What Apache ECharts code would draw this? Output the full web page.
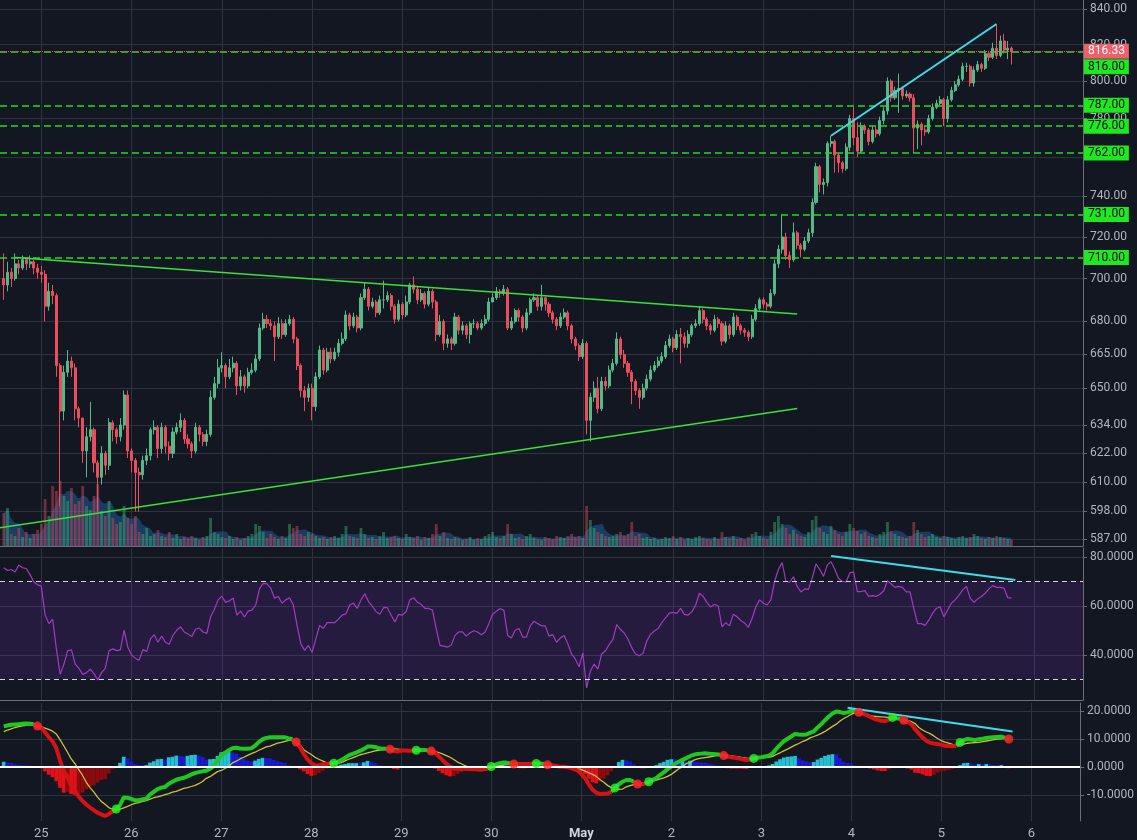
<!DOCTYPE html>
<html><head><meta charset="utf-8">
<script src="https://cdn.jsdelivr.net/npm/echarts@6/dist/echarts.min.js"></script>
<style>html,body{margin:0;padding:0;background:#131722;}#c{width:1137px;height:840px;}</style>
</head><body><div id="c"></div>
<script>
// ---------- data (hourly candles, 24 Apr 14:00 -> 5 May 18:00) ----------
const FIRST_OPEN = 700;
const CLOSE = [
697,703,700,707,705,709,707,708,705,703,
702,687,694,692,660,640,657,662,659,641,
637,623,629,632,618,612,622,617,635,632,
629,634,647,623,619,614,613,619,621,632,
633,624,633,625,622,631,633,636,628,626,
623,633,630,627,630,646,652,659,660,655,
659,661,651,655,651,657,658,663,677,681,
679,678,673,679,674,679,681,672,660,649,
646,650,642,655,667,658,666,663,666,670,
672,683,678,682,677,691,695,687,689,684,
690,690,692,687,681,688,683,689,697,695,
690,693,688,694,689,674,680,670,672,670,
682,676,678,674,679,679,677,679,681,689,
691,694,693,695,677,680,685,682,677,684,
690,691,687,691,688,684,681,678,682,684,
678,672,669,664,670,636,646,650,641,653,
651,658,661,672,665,661,657,653,649,646,
650,654,658,660,662,664,669,672,668,674,
673,670,674,678,679,685,681,678,676,681,
679,671,678,674,682,678,676,675,673,681,
686,690,688,687,693,707,714,720,711,709,
722,716,714,718,722,737,755,746,747,767,
768,761,757,754,765,780,770,763,776,774,
768,774,772,779,784,800,791,795,796,792,
793,791,775,777,774,773,780,786,788,790,
780,790,795,798,801,808,808,799,806,809,
807,815,813,818,814,822,817,818,816.33];
const HIGH = [
712,708,705,712,709,711,710,711,709,707,
706,704,698,697,693,661,660,667,664,661,
642,637,633,644,633,619,625,623,637,636,
633,637,649,649,624,620,616,621,624,633,
636,634,635,634,627,633,635,639,637,630,
627,635,634,631,632,649,655,663,666,661,
663,664,662,658,656,659,661,665,679,684,
683,681,680,682,681,681,683,682,673,661,
651,652,652,657,669,668,668,668,668,672,
675,685,684,684,683,693,698,696,691,690,
692,699,694,693,688,690,689,692,698,701,
696,695,694,696,695,690,683,681,674,673,
684,683,680,679,680,681,680,681,683,691,
693,696,695,697,696,682,686,686,683,686,
691,693,692,697,691,689,685,682,684,686,
685,679,673,670,672,671,648,653,655,655,
655,660,663,675,673,667,662,658,654,650,
652,656,660,662,664,666,671,674,673,676,
677,675,676,679,681,687,686,682,679,683,
682,680,680,679,684,683,679,677,676,683,
688,691,691,689,695,709,716,731,722,713,
727,723,717,720,724,739,757,756,749,768,
771,769,762,758,767,782,786,778,778,777,
775,776,776,781,786,802,801,797,804,797,
795,794,793,779,778,776,782,788,790,792,
791,792,797,800,803,810,810,809,808,811,
810,817,816,821,831,825,826,822,819];
const LOW = [
690,694,696,699,702,704,704,705,702,700,
698,680,685,688,655,600,636,655,655,636,
633,618,612,627,614,598,609,613,615,627,
626,627,632,620,614,598,598,611,617,619,
630,620,622,622,619,620,630,631,626,624,
620,622,627,625,625,629,645,650,657,650,
654,657,647,649,648,650,656,657,662,676,
677,676,662,672,672,673,678,670,658,646,
640,644,636,640,654,656,657,661,662,664,
669,671,676,677,675,676,690,685,686,682,
683,686,689,685,679,680,681,682,688,693,
688,689,686,687,686,671,673,667,668,667,
669,674,674,672,670,677,676,676,678,680,
689,690,691,692,676,676,679,680,675,676,
683,689,685,685,685,682,679,676,677,681,
676,670,667,662,663,630,627,644,639,640,
649,650,657,660,663,659,655,643,647,641,
645,649,653,657,659,661,663,668,666,667,
661,668,668,673,677,678,679,676,674,675,
677,669,670,672,673,676,674,673,671,672,
680,685,686,685,686,692,705,712,709,705,
708,714,710,713,717,720,736,742,741,745,
765,752,752,752,753,763,766,760,762,772,
766,767,770,771,777,782,789,790,783,790,
791,789,762,764,766,771,772,779,785,787,
776,778,789,794,797,800,805,797,797,805,
805,806,811,812,812,813,815,812,809];
const VOLUME = [
33,38,12,10,18,9,14,8,12,16,22,
47,30,60,55,65,50,45,58,42,45,
60,40,36,50,62,35,30,45,28,22,
24,40,28,22,30,14,12,18,10,12,
16,10,9,14,8,12,7,9,8,10,
8,6,9,10,28,14,12,9,8,10,
7,9,6,8,10,12,22,20,14,8,
12,9,7,10,8,22,18,20,12,10,
14,12,10,8,9,7,9,10,8,12,
20,10,9,8,18,12,8,9,7,10,
14,8,9,10,8,7,12,9,8,10,
6,9,8,12,22,10,14,8,7,9,
8,6,7,9,6,8,7,10,12,14,
9,8,10,22,12,8,9,7,10,12,
8,7,6,9,8,7,10,9,8,10,
12,9,10,8,40,26,18,14,12,10,
9,10,12,14,10,12,24,10,12,8,
9,7,8,6,7,9,8,10,7,9,
6,8,7,9,10,8,7,6,9,7,
14,9,8,10,7,8,6,9,12,14,
10,8,7,14,24,30,22,18,12,16,
12,10,9,14,26,30,18,14,12,20,
16,12,10,14,22,18,15,12,14,10,
9,8,12,14,24,15,12,10,9,8,
10,24,16,12,9,10,12,9,8,10,
9,8,7,9,10,8,9,12,10,8,
7,9,8,10,9,8,7,6];
const RSI = [
75.6,74.5,74.9,73.9,76.7,75.6,75.3,72.8,69.8,68.7,
68.0,56.3,52.8,54.6,42.5,32.1,36.3,41.8,42.1,36.3,
34.5,32.1,32.8,34.2,32.4,29.8,32.8,34.5,41.8,42.5,
41.8,42.1,50.1,43.2,40.0,38.6,37.9,42.2,41.4,46.6,
48.3,45.2,47.7,45.2,44.4,48.0,50.1,51.5,49.4,48.6,
47.5,50.5,51.0,49.4,48.8,55.6,58.6,62.5,64.0,61.5,
62.1,63.2,56.3,57.9,55.5,57.9,58.3,60.4,67.0,69.2,
69.0,67.3,63.2,63.9,61.1,62.5,63.4,60.4,52.1,44.6,
41.9,43.9,41.1,46.6,52.1,50.8,53.2,53.2,53.2,54.6,
56.3,56.8,60.4,61.2,59.0,62.5,65.0,61.8,59.9,57.7,
56.6,59.3,59.3,56.3,53.5,56.6,56.3,57.7,62.5,63.4,
61.5,60.7,59.0,59.0,58.3,50.8,43.9,43.6,43.2,44.1,
48.0,49.4,49.4,47.7,49.1,49.9,49.4,48.3,49.4,52.8,
56.6,57.9,59.0,58.2,48.0,46.9,50.1,50.8,47.3,47.3,
51.9,53.8,52.8,51.9,51.9,47.7,48.3,45.2,46.9,48.0,
44.6,40.4,38.4,35.2,40.8,26.6,33.5,36.3,34.2,40.4,
41.7,44.3,46.4,52.4,50.4,49.0,46.4,43.0,40.4,39.7,
40.7,45.7,48.4,49.8,50.8,53.2,55.2,57.1,57.4,57.0,
59.0,56.6,56.3,57.7,60.4,65.2,63.9,61.4,59.6,60.7,
60.0,51.5,53.2,51.9,56.6,55.6,54.1,53.1,51.3,54.9,
59.7,62.5,61.1,60.4,62.5,70.1,74.9,77.7,70.1,69.7,
71.9,68.0,65.7,67.0,66.8,71.5,77.2,74.9,72.1,76.7,
78.1,75.0,71.2,70.1,69.8,73.5,73.9,65.9,65.9,66.3,
63.9,64.2,63.9,64.8,66.2,70.3,69.0,67.6,68.0,67.6,
65.8,65.8,59.0,52.8,52.8,52.1,54.2,57.0,59.0,59.7,
55.6,58.3,61.1,62.5,64.3,66.6,68.0,63.2,61.5,62.9,
63.9,65.2,67.0,68.3,67.6,67.6,67.3,63.4,63.2];
const MACD = [
14.5,14.8,15.1,15.2,15.3,15.4,15.5,15.4,15.3,14.6,
14.0,12.4,10.7,9.2,6.8,2.4,-1.5,-3.5,-6.7,-8.7,
-10.5,-12.0,-13.3,-14.4,-15.3,-16.2,-16.8,-17.4,-16.7,-15.8,
-14.9,-13.5,-10.8,-10.9,-11.3,-11.8,-11.8,-11.5,-11.2,-9.8,
-8.8,-7.8,-7.3,-7.1,-5.9,-5.2,-4.5,-4.1,-3.8,-3.3,
-2.6,-2.1,-1.8,-1.5,-1.3,-0.6,0.4,2.4,4.1,5.1,
6.0,6.7,6.9,6.6,6.5,6.5,6.7,7.6,8.9,9.9,
10.4,10.6,10.6,10.6,10.6,10.6,10.2,9.9,8.9,7.1,
4.7,2.8,1.4,0.6,0.7,0.9,1.1,1.3,1.4,1.8,
2.5,3.3,4.2,4.7,5.2,5.8,6.4,7.3,7.3,7.2,
6.7,6.5,6.5,6.4,5.8,5.5,5.9,5.9,5.8,5.8,
6.0,6.1,6.1,6.0,5.7,5.1,3.8,2.5,1.2,0.2,
-0.5,-0.6,-0.6,-0.6,-0.7,-0.8,-0.8,-0.9,-0.8,-0.6,
0.2,0.8,1.3,1.6,1.6,1.3,1.1,1.1,1.0,1.0,
1.1,1.2,1.3,1.3,1.1,0.8,0.7,0.5,0.2,0.1,
0.0,-0.2,-0.7,-1.2,-2.4,-3.9,-6.1,-8.0,-9.1,-9.6,
-9.5,-9.4,-8.8,-7.4,-6.1,-5.2,-4.6,-4.6,-5.2,-6.0,
-6.1,-5.9,-5.2,-4.6,-3.9,-2.8,-1.9,-0.7,0.2,1.2,
1.9,2.6,3.2,3.9,4.4,4.7,4.8,4.9,4.8,4.7,
4.6,4.4,4.1,3.8,3.5,3.3,3.1,2.8,2.5,2.7,
3.1,3.3,3.5,3.8,4.1,4.9,6.5,7.9,9.2,10.1,
10.9,11.8,11.6,11.5,11.6,12.2,12.7,14.1,15.3,16.7,
18.0,19.1,19.8,19.6,19.2,19.5,20.0,20.0,19.5,19.1,
18.6,17.9,17.3,16.8,16.5,16.4,16.8,17.7,17.4,17.2,
16.7,16.1,15.3,13.5,12.0,10.6,9.4,8.7,8.4,8.2,
8.0,7.6,7.5,7.4,7.6,8.8,9.6,10.0,9.8,9.6,
9.9,10.1,10.4,10.5,10.6,10.7,10.8,10.5,10.0];
const SIGNAL = [
12.6,13.2,13.6,14.1,14.4,14.7,14.9,15.1,14.9,14.7,
14.4,13.9,13.4,12.8,11.8,9.8,7.6,5.3,2.9,1.2,
-0.9,-2.9,-5.4,-7.3,-8.8,-10.7,-12.2,-13.2,-14.4,-15.0,
-15.2,-15.0,-14.5,-14.0,-13.4,-12.9,-12.6,-12.2,-11.9,-11.4,
-10.9,-10.6,-10.2,-9.8,-9.4,-8.9,-8.6,-8.1,-7.6,-7.3,
-6.9,-6.5,-5.9,-5.1,-4.0,-3.4,-2.5,-1.6,-1.2,-0.5,
0.4,1.5,2.1,2.9,3.5,4.2,4.8,5.3,6.0,6.6,
7.2,7.5,8.0,8.5,8.8,9.2,9.5,9.5,9.2,7.9,
6.2,5.3,4.5,3.5,2.8,2.2,1.6,1.4,1.2,1.3,
1.6,2.2,2.8,3.3,3.8,4.4,4.7,5.1,5.4,5.8,
6.0,6.2,6.4,6.5,6.5,6.4,6.2,6.2,6.0,5.9,
5.9,5.9,5.9,5.8,5.8,5.6,5.2,4.7,4.1,3.5,
2.7,1.8,1.2,0.5,0.0,-0.4,-0.6,-0.7,-0.7,-0.5,
-0.2,0.1,0.5,0.7,0.9,1.1,1.3,1.4,1.4,1.4,
1.4,1.3,1.2,1.1,1.0,0.9,0.8,0.6,0.5,0.4,
0.2,0.1,-0.1,-0.5,-0.9,-1.4,-2.0,-2.6,-3.3,-4.5,
-5.4,-6.5,-7.3,-7.6,-7.9,-7.8,-7.0,-6.6,-6.2,-5.9,
-5.7,-5.5,-5.3,-5.0,-4.6,-4.2,-3.8,-3.3,-2.6,-1.6,
-0.6,0.1,1.3,1.6,2.5,2.9,3.2,3.4,3.6,3.8,
4.1,4.3,4.3,4.2,4.0,3.8,3.6,3.4,3.2,3.0,
3.0,3.1,3.3,3.4,3.5,3.8,4.5,5.1,5.8,6.4,
7.1,7.8,8.4,9.1,9.6,10.4,10.9,11.4,12.0,12.7,
13.6,14.5,15.3,16.4,17.3,18.0,18.8,19.4,19.6,19.3,
18.8,18.4,18.1,18.0,17.9,17.8,17.6,17.5,17.3,17.1,
16.8,16.6,16.2,15.5,14.1,13.2,12.5,11.9,11.1,10.2,
9.4,8.9,8.5,8.1,8.0,8.1,8.2,8.5,8.6,8.7,
8.8,9.1,9.3,9.5,9.8,10.0,10.1,10.2,10.4];
const PRICE_TICKS = [587,598,610,622,634,650,665,680,700,720,740,760,780,800,820,840];
const RSI_TICKS = [40,60,80];
const MACD_TICKS = [-10,0,10,20];
const LEVELS = [816,787,776,762,731,710];
const LAST_PRICE = 816.33;
const RSI_BANDS = [30,70];
// trend-line drawings: [category index, value]
const TL_UPPER = [[3.7,710],[212,683.4]];
const TL_LOWER = [[0,591.5],[212,641.1]];
const TL_PRICE_CYAN = [[221,771],[265,831.5]];
const TL_RSI_CYAN = [[221,80.4],[270,70.6]];
const TL_MACD_CYAN = [[225.5,21.1],[270,12.7]];
// axis range
const PRICE_MIN = 584.2, PRICE_MAX = 845.1;
const RSI_MIN = 21.63, RSI_MAX = 83.67;
const MACD_MIN = -19.18, MACD_MAX = 22.82;

// ---------- categories: hourly from 24 Apr 2018 13:00 UTC ----------
const START = Date.UTC(2018,3,24,13);
const N_CATS = 289;
const OFF = 1;
const DATES = [], CATS = [];
for (let k=0;k<N_CATS;k++){ const d=new Date(START+k*3600000); DATES.push(d); CATS.push(d.toISOString().slice(0,16)); }
const isMidnight = (idx)=> DATES[idx] && DATES[idx].getUTCHours()===0;

const ln = Math.log;
const UP='#53b987', DOWN='#eb4d5c';
const candles = CLOSE.map((c,i)=>{
  const o = i? CLOSE[i-1] : FIRST_OPEN;
  const h = Math.max(HIGH[i],o,c), l = Math.min(LOW[i],o,c);
  return [i+OFF, ln(o), ln(c), ln(l), ln(h)];
});
const volBars = VOLUME.map((v,i)=>{
  const o = i? CLOSE[i-1] : FIRST_OPEN;
  const up = CLOSE[i] >= o;
  return {value:[i+OFF,v], itemStyle:{color: up? 'rgba(60,170,110,0.5)':'rgba(200,70,90,0.5)'}};
});
const volMA = VOLUME.map((v,i)=>{ let s=0,c=0; for(let k=Math.max(0,i-4);k<=i;k++){s+=VOLUME[k];c++;} return [i+OFF, s/c]; });

const diff = MACD.map((m,i)=>m-SIGNAL[i]);
const n = MACD.length;
const macdGreen = MACD.map((m,i)=> (diff[i]>=0 || (i+1<n && diff[i+1]>=0)) ? [i+OFF,m] : [i+OFF,'-']);
const macdRed = MACD.map((m,i)=> (diff[i]<0 || (i+1<n && diff[i+1]<0)) ? [i+OFF,m] : [i+OFF,'-']);
const dots = [];
for (let i=1;i<n;i++){ if ((diff[i]>=0)!==(diff[i-1]>=0)) dots.push({value:[i+OFF,MACD[i]], itemStyle:{color: diff[i]>=0?'#2bef2b':'#ff2a2a'}}); }
const hist = diff.map((h,i)=>{
  const prev = i? diff[i-1] : h;
  let col;
  if (h>=0) col = h>=prev ? '#26c0d3' : '#1a1ad0';
  else col = h<=prev ? '#e3121a' : '#8c0b0f';
  return {value:[i+OFF,h], itemStyle:{color:col}};
});

const FONT = 'Roboto, "Open Sans", sans-serif';
const TXT = '#b2b5be', GRIDC = '#2f3340', AXC = '#6b6e78';
const LVL_GREEN = '#22dd22';

function xAxis(gi, showLabels){
  return {type:'category', gridIndex:gi, data:CATS, boundaryGap:false,
    axisLine:{show:true, lineStyle:{color:AXC}},
    axisTick:{show:false},
    axisLabel:{show:showLabels, interval:(idx)=>isMidnight(idx), margin:6, color:TXT, fontSize:13, fontFamily:FONT,
      formatter:(v,idx)=>{ const d=new Date(v+':00Z'); return d.getUTCDate()===1 ? '{m|May}' : String(d.getUTCDate()); },
      rich:{m:{fontWeight:'bold', color:'#d1d4dc', fontSize:13, fontFamily:FONT}}},
    splitLine:{show:true, interval:(idx)=>isMidnight(idx), lineStyle:{color:GRIDC, width:1}}};
}
function yAxisCustom(gi, min, max, ticks, fmt){
  return {type:'value', gridIndex:gi, position:'right', min:min, max:max,
    axisLine:{show:true, lineStyle:{color:AXC}},
    axisTick:{show:true, customValues:ticks, length:4, lineStyle:{color:AXC}},
    axisLabel:{customValues:ticks, formatter:fmt, color:TXT, fontSize:12, fontFamily:FONT, margin:7},
    splitLine:{show:true, lineStyle:{color:GRIDC}}};
}

const LVL_STYLE = {color:LVL_GREEN, type:[7,4], width:1.6, opacity:1};
function greenLevel(v){
  return {yAxis:ln(v), lineStyle:LVL_STYLE,
    label:{show:true, position:'end', distance:1, formatter:v.toFixed(2), backgroundColor:'#1ee81e', color:'#0a0a0a',
      padding:[2,4,1,4], fontSize:12, fontFamily:FONT}};
}
const levelLines = LEVELS.filter(v=>v!==816).map(greenLevel);
// 816 shares its row with the last price; its tag is pushed below
levelLines.push({yAxis:ln(816), lineStyle:LVL_STYLE,
  label:{show:true, position:'end', distance:1, formatter:'{s| }\n{b|816.00}', fontFamily:FONT,
    rich:{s:{lineHeight:30, fontSize:12}, b:{backgroundColor:'#1ee81e', color:'#0a0a0a', padding:[2,4,1,4], fontSize:12, fontFamily:FONT, lineHeight:14}}}});
levelLines.push({yAxis:ln(LAST_PRICE), lineStyle:{color:'#ef5350', type:'dotted', width:1, opacity:1},
  label:{show:true, position:'end', distance:1, formatter:LAST_PRICE.toFixed(2), backgroundColor:'#f0606c', color:'#ffffff',
    padding:[2,4,1,4], fontSize:12, fontFamily:FONT}});
const tl = (pts, color, w)=>[{coord:[pts[0][0], pts[0][1]], lineStyle:{color:color, width:w, type:'solid', opacity:1}, label:{show:false}}, {coord:[pts[1][0], pts[1][1]]}];
const tlLn = (pts, color, w)=>tl(pts.map(p=>[p[0], ln(p[1])]), color, w);
const ML = {silent:true, symbol:['none','none'], animation:false, precision:10};

const option = {
  backgroundColor:'#131722',
  animation:false,
  grid:[
    {left:0, right:54, top:0, height:546},
    {left:0, right:54, top:548, height:152},
    {left:0, right:54, top:703, height:119}
  ],
  xAxis:[xAxis(0,false), xAxis(1,false), xAxis(2,true)],
  yAxis:[
    yAxisCustom(0, ln(PRICE_MIN), ln(PRICE_MAX), PRICE_TICKS.map(ln), (v)=>Math.exp(v).toFixed(2)),
    {type:'value', gridIndex:0, min:0, max:546, show:false, splitLine:{show:false}},
    yAxisCustom(1, RSI_MIN, RSI_MAX, RSI_TICKS, (v)=>v.toFixed(4)),
    yAxisCustom(2, MACD_MIN, MACD_MAX, MACD_TICKS, (v)=>v.toFixed(4))
  ],
  series:[
    {type:'line', xAxisIndex:0, yAxisIndex:1, data:volMA, smooth:true, symbol:'none', lineStyle:{width:0},
      areaStyle:{color:'rgba(38,120,200,0.55)'}, z:1},
    {type:'bar', xAxisIndex:0, yAxisIndex:1, data:volBars, barCategoryGap:'25%', z:2},
    {type:'candlestick', xAxisIndex:0, yAxisIndex:0, data:candles, encode:{x:0, y:[1,2,3,4]}, barWidth:'68%', z:3,
      itemStyle:{color:UP, color0:DOWN, borderColor:UP, borderColor0:DOWN, borderWidth:1}},
    // carrier for the horizontal price levels and trend-line drawings (its own line is invisible)
    {type:'line', xAxisIndex:0, yAxisIndex:0, data:CLOSE.map((c,i)=>[i+OFF, ln(c)]), symbol:'none', silent:true,
      color:LVL_GREEN, lineStyle:{opacity:0}, z:4,
      markLine:Object.assign({}, ML, {
        data: levelLines.concat([tlLn(TL_UPPER,'#3be03b',1.5), tlLn(TL_LOWER,'#3be03b',1.5), tlLn(TL_PRICE_CYAN,'#3fdbe8',2)])})},
    {type:'line', xAxisIndex:1, yAxisIndex:2, data:RSI.map((v,i)=>[i+OFF,v]), symbol:'none',
      lineStyle:{color:'#a23bc0', width:1.2}, z:3,
      markArea:{silent:true, itemStyle:{color:'rgba(150,60,235,0.14)'}, data:[[{yAxis:RSI_BANDS[0]},{yAxis:RSI_BANDS[1]}]]},
      markLine:Object.assign({}, ML, {data:[
        {yAxis:RSI_BANDS[1], lineStyle:{color:'#d1d4dc', type:[5,4], width:1}, label:{show:false}},
        {yAxis:RSI_BANDS[0], lineStyle:{color:'#d1d4dc', type:[5,4], width:1}, label:{show:false}},
        tl(TL_RSI_CYAN,'#3fdbe8',2)
      ]})},
    {type:'bar', xAxisIndex:2, yAxisIndex:3, data:hist, barCategoryGap:'0%', z:1},
    {type:'line', xAxisIndex:2, yAxisIndex:3, data:SIGNAL.map((v,i)=>[i+OFF,v]), symbol:'none',
      lineStyle:{color:'#cfc23a', width:1.3}, z:3,
      markLine:Object.assign({}, ML, {data:[
        {yAxis:0, lineStyle:{color:'#ffffff', type:'solid', width:2}, label:{show:false}}
      ]})},
    {type:'line', xAxisIndex:2, yAxisIndex:3, data:macdGreen, symbol:'none', lineStyle:{color:'#1fc81f', width:4}, z:4},
    {type:'line', xAxisIndex:2, yAxisIndex:3, data:macdRed, symbol:'none', lineStyle:{color:'#d81212', width:4}, z:4,
      markLine:Object.assign({}, ML, {data:[tl(TL_MACD_CYAN,'#3fdbe8',2)]})},
    {type:'scatter', xAxisIndex:2, yAxisIndex:3, data:dots, symbolSize:9, z:5}
  ]
};
const chart = echarts.init(document.getElementById('c'));
chart.setOption(option);
</script></body></html>
